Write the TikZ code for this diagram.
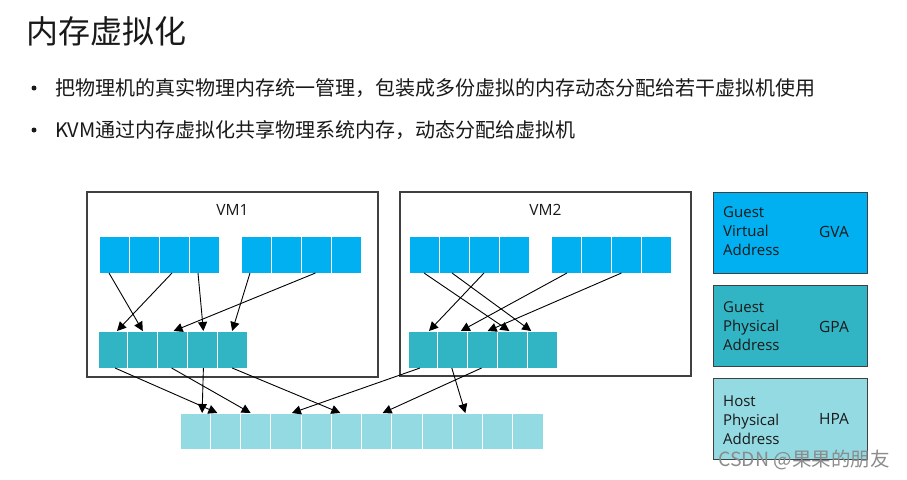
\documentclass[tikz,border=0pt]{standalone}
\usepackage{fontspec}
\setmainfont{Open Sans}
\newfontfamily\cjk{Noto Sans CJK SC}
\usetikzlibrary{arrows.meta}
\definecolor{gvacol}{HTML}{00B0F0}
\definecolor{gpacol}{HTML}{31B5C4}
\definecolor{hpacol}{HTML}{93DAE3}
\definecolor{boxline}{HTML}{404040}
\tikzset{
  cellbase/.style={draw=white, line width=0.9pt, minimum width=30pt, inner sep=0pt, outer sep=0pt, anchor=north west},
  gvacell/.style={cellbase, fill=gvacol, minimum height=37pt},
  gpacell/.style={cellbase, fill=gpacol, minimum height=37pt},
  hpacell/.style={cellbase, fill=hpacol, minimum width=30.25pt, minimum height=36pt},
  vmbox/.style={draw=boxline, line width=1.1pt, inner sep=0pt, outer sep=0pt, anchor=north west},
  vmlabel/.style={font=\fontsize{15.5}{18}\selectfont, text=black!90},
  legbox/.style={draw=boxline, line width=0.9pt, inner sep=0pt, outer sep=0pt, anchor=north west, minimum width=154pt, minimum height=81pt},
  legtext/.style={font=\fontsize{15}{19}\selectfont, align=left, anchor=west, inner sep=0pt, text=black!90},
  legabbr/.style={font=\fontsize{15.5}{19}\selectfont, inner sep=0pt, text=black!90},
  conn/.style={draw=black, line width=0.9pt, -{Triangle[length=9pt,width=9pt]}},
  cjktext/.style={font=\cjk\fontsize{20}{24}\selectfont, anchor=west, inner sep=0pt, text=black!90},
  bulletdot/.style={circle, fill=black!90, minimum size=5pt, inner sep=0pt},
}
\begin{document}
\begin{tikzpicture}[x=1pt,y=-1pt]
\useasboundingbox[fill=white] (0,0) rectangle (907,479);

% title and bullets
\node[font=\cjk\fontsize{32}{36}\selectfont, anchor=west, inner sep=0pt, text=black!90] (title) at (26,31) {内存虚拟化};
\node[bulletdot] (b1dot) at (34,88) {};
\node[cjktext] (b1) at (55,88) {把物理机的真实物理内存统一管理，包装成多份虚拟的内存动态分配给若干虚拟机使用};
\node[bulletdot] (b2dot) at (34,130) {};
\node[cjktext] (b2) at (55,130) {KVM通过内存虚拟化共享物理系统内存，动态分配给虚拟机};

% VM boxes
\node[vmbox, minimum width=291pt, minimum height=185pt] (vm1) at (87,192) {};
\node[vmlabel] (vm1lab) at (232.5,210) {VM1};
\node[vmbox, minimum width=291pt, minimum height=184pt] (vm2) at (400,192) {};
\node[vmlabel] (vm2lab) at (545.5,210) {VM2};

% cells
\foreach \i in {1,...,4} {
  \node[gvacell] (g1a\i) at ({99+30*(\i-1)},236) {};
  \node[gvacell] (g1b\i) at ({241+30.25*(\i-1)},236) {};
  \node[gvacell] (g2a\i) at ({409+30*(\i-1)},236) {};
  \node[gvacell] (g2b\i) at ({551+30.25*(\i-1)},236) {};
}
\foreach \i in {1,...,5} {
  \node[gpacell] (p1c\i) at ({98+29.8*(\i-1)},331) {};
  \node[gpacell] (p2c\i) at ({408+29.8*(\i-1)},331) {};
}
\foreach \i in {1,...,12} {
  \node[hpacell] (h\i) at ({180+30.25*(\i-1)},413) {};
}

% VM1 GVA -> GPA
\draw[conn] ([xshift=-5pt]g1a1.south) -- ([xshift=0pt]p1c2.north);
\draw[conn] ([xshift=-2pt]g1a3.south) -- ([xshift=4pt]p1c1.north);
\draw[conn] ([xshift=-6pt]g1a4.south) -- ([xshift=1pt]p1c4.north);
\draw[conn] ([xshift=-6pt]g1b1.south) -- ([xshift=0pt]p1c5.north);
\draw[conn] ([xshift=-1pt]g1b3.south) -- ([xshift=1pt]p1c3.north);

% VM2 GVA -> GPA
\draw[conn] ([xshift=0pt]g2a1.south) -- ([xshift=-3pt]p2c4.north);
\draw[conn] ([xshift=-2pt]g2a2.south) -- ([xshift=-11pt]p2c5.north);
\draw[conn] ([xshift=0pt]g2a3.south) -- ([xshift=6pt]p2c1.north);
\draw[conn] ([xshift=1pt]g2b1.south) -- ([xshift=8pt]p2c2.north);
\draw[conn] ([xshift=-5pt]g2b3.south) -- ([xshift=5pt]p2c3.north);

% GPA -> HPA
\draw[conn] ([xshift=2pt]p1c1.south) -- ([xshift=-8pt]h2.north);
\draw[conn] ([xshift=-1pt]p1c3.south) -- ([xshift=-5pt]h3.north);
\draw[conn] ([xshift=1pt]p1c4.south) -- ([xshift=7pt]h1.north);
\draw[conn] ([xshift=0pt]p1c5.south) -- ([xshift=-6pt]h6.north);
\draw[conn] ([xshift=-3pt]p2c1.south) -- ([xshift=6pt]h4.north);
\draw[conn] ([xshift=-1pt]p2c2.south) -- ([xshift=-2pt]h10.north);
\draw[conn] ([xshift=-1pt]p2c3.south) -- ([xshift=6pt]h7.north);

% legend
\node[legbox, fill=gvacol] (lgva) at (713,192) {};
\node[legtext] (lgvat) at (723,231) {Guest\\Virtual\\Address};
\node[legabbr] (lgvaa) at (834,232) {GVA};
\node[legbox, fill=gpacol] (lgpa) at (713,285) {};
\node[legtext] (lgpat) at (723,326) {Guest\\Physical\\Address};
\node[legabbr] (lgpaa) at (834,327) {GPA};
\node[legbox, fill=hpacol] (lhpa) at (713,378) {};
\node[legtext] (lhpat) at (723,420) {Host\\Physical\\Address};
\node[legabbr] (lhpaa) at (834,419) {HPA};

% watermark
\node[font=\cjk\fontsize{19.5}{22}\selectfont, text=black!45, anchor=west, inner sep=0pt] (wm) at (718,460) {CSDN @果果的朋友};
\end{tikzpicture}
\end{document}
